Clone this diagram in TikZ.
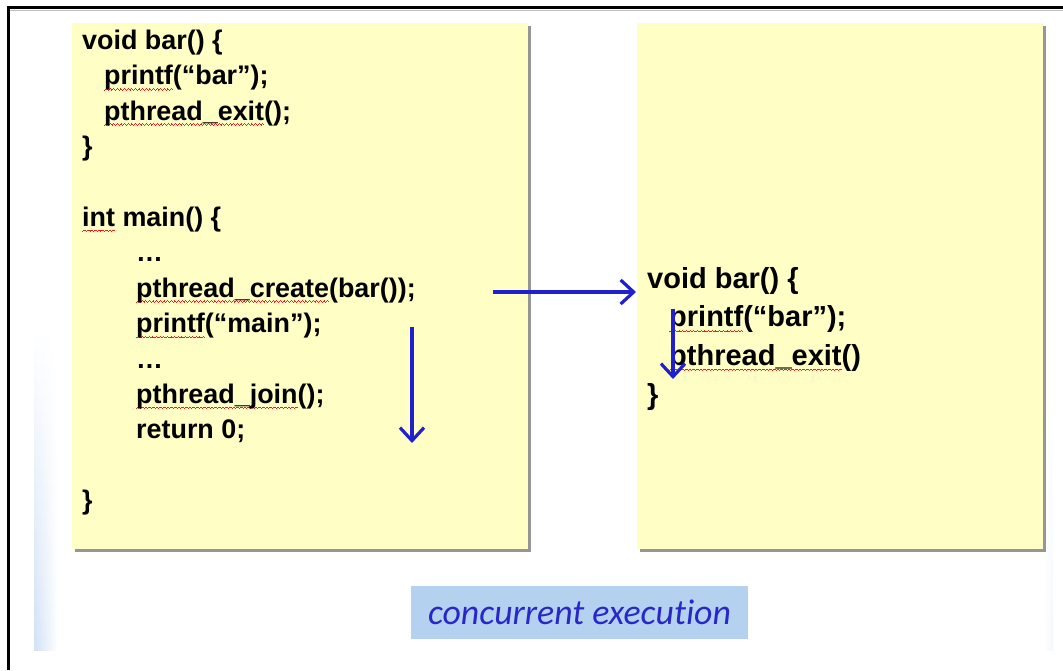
\documentclass[tikz,border=0pt]{standalone}
\usepackage{fontspec}
\setmainfont{Liberation Sans}
\newfontfamily\capfont[Ligatures=NoCommon]{Carlito}
\usetikzlibrary{arrows.meta}

\definecolor{note}{RGB}{255,254,196}
\definecolor{noteshadow}{RGB}{150,150,150}
\definecolor{flow}{RGB}{32,32,205}
\definecolor{tag}{RGB}{180,210,240}
\definecolor{tagtext}{RGB}{40,40,200}
\definecolor{spellred}{RGB}{240,30,30}
\definecolor{stripblue}{RGB}{208,224,245}

% wavy spell-check underline, built from small stepped rules
\newsavebox\spellbox
\newcommand\wavecell{\hbox{%
  \rule[-5.5pt]{0.9pt}{0.9pt}\rule[-4.7pt]{0.9pt}{0.9pt}%
  \rule[-3.9pt]{0.9pt}{0.9pt}\rule[-4.7pt]{0.9pt}{0.9pt}}}
\newcommand\spell[1]{\sbox\spellbox{#1}%
  \hbox to 0pt{\textcolor{spellred}{\xleaders\wavecell\hskip\wd\spellbox}\hss}%
  \usebox\spellbox}

\tikzset{
  notebox/.style={fill=note, inner sep=0pt, anchor=north west},
  boxshadow/.style={fill=noteshadow},
  code/.style={anchor=base west, inner sep=0pt, font=\fontsize{26.9}{30}\selectfont\bfseries},
  coderight/.style={code, font=\fontsize{29}{32}\selectfont\bfseries},
  flowarrow/.style={draw=flow, line width=3.2pt,
    -{Straight Barb[length=13pt,width=24pt]}},
  tagbox/.style={fill=tag, inner sep=0pt, minimum width=337pt, minimum height=53pt,
    text=tagtext, font=\capfont\itshape\fontsize{35.8}{40}\selectfont}
}

\begin{document}
\begin{tikzpicture}[x=1pt,y=-1pt]
\useasboundingbox (0,0) rectangle (1063,670);
\fill[white] (0,0) rectangle (1063,670);

% slide background edges: soft blue bands growing stronger downwards
\foreach \k in {0,...,21}{
  \pgfmathsetmacro\mix{4.5*\k}
  \fill[left color=stripblue!\mix!white, right color=white]
    (34,{320+15*\k}) rectangle (58,{335.5+15*\k});
}
\foreach \k in {0,...,17}{
  \pgfmathsetmacro\mix{1.6*\k}
  \fill[left color=white, right color=stripblue!\mix!white]
    (1044,{380+15*\k}) rectangle (1053,{395.5+15*\k});
}

% frame
\draw[noteshadow!60!white, line width=1pt] (10,10.5) -- (1063,10.5);
\draw[black, line width=3pt] (8.5,670) -- (8.5,7.5) -- (1063,7.5);

% note boxes with shadows
\fill[boxshadow] (75,26) rectangle (531,552);
\node[notebox, minimum width=456pt, minimum height=526pt] (mainbox) at (72,23) {};
\fill[boxshadow] (640,26) rectangle (1046,552);
\node[notebox, minimum width=406pt, minimum height=526pt] (barbox) at (637,23) {};

% main thread code
\node[code] (l0) at (82,49.5) {void bar() \{};
\node[code] (l1) at (104,84.9) {\spell{printf}(“bar”);};
\node[code] (l2) at (104,120.3) {\spell{pthread\_exit}();};
\node[code] (l3) at (82,155.7) {\}};
\node[code] (l5) at (82,226.5) {\spell{int} main() \{};
\node[code] (l6) at (136,261.9) {…};
\node[code] (l7) at (136,297.3) {\spell{pthread\_create}(bar());};
\node[code] (l8) at (136,332.7) {\spell{printf}(“main”);};
\node[code] (l9) at (136,368.1) {…};
\node[code] (l10) at (136,403.5) {\spell{pthread\_join}();};
\node[code] (l11) at (136,438.9) {return 0;};
\node[code] (l13) at (82,509.7) {\}};

% new thread code
\node[coderight] (r0) at (647,288) {void bar() \{};
\node[coderight] (r1) at (669,326.8) {\spell{printf}(“bar”);};
\node[coderight] (r2) at (669,365.6) {\spell{pthread\_exit}()};
\node[coderight] (r3) at (647,404.4) {\}};

% control flow
\coordinate (spawnA) at (493,292);
\coordinate (spawnB) at (636,292);
\draw[flowarrow] (spawnA) -- (spawnB);
\coordinate (mainA) at (412,327);
\coordinate (mainB) at (412,443);
\draw[flowarrow] (mainA) -- (mainB);
\coordinate (barA) at (673,309);
\coordinate (barB) at (673,379);
\draw[flowarrow] (barA) -- (barB);

% caption
\node[tagbox] (caption) at (579.5,612.5) {concurrent execution};
\end{tikzpicture}
\end{document}
